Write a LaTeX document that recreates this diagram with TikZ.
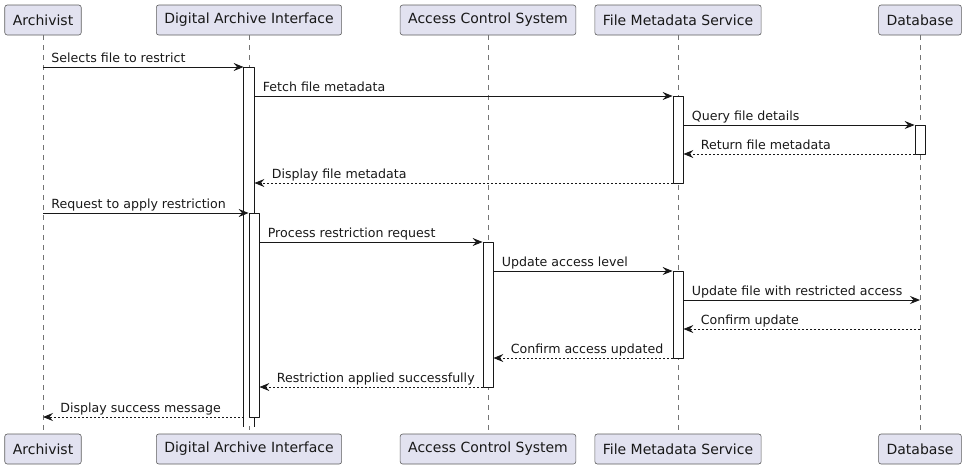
\documentclass[tikz,border=0pt]{standalone}
\usepackage{fontspec}
\setmainfont{DejaVu Sans}
\usepackage{tikz}
\usetikzlibrary{arrows.meta}

\definecolor{partfill}{HTML}{E2E2F0}
\definecolor{ink}{HTML}{181818}

\begin{document}
\begin{tikzpicture}[x=1pt, y=-1pt, line join=round,
  party/.style={draw=ink!70, fill=partfill, rounded corners=2.5pt, line width=0.6pt,
    minimum height=30pt, inner xsep=8pt, inner ysep=0pt,
    font=\fontsize{14}{16}\selectfont, text=ink},
  life/.style={draw=ink!60, line width=0.6pt, dash pattern=on 5pt off 5pt},
  bar/.style={draw=ink, fill=white, line width=0.8pt, minimum width=10pt,
    inner sep=0pt, anchor=north},
  msg/.style={draw=ink, line width=0.9pt, -{Stealth[length=10pt, width=8pt, inset=3.5pt]}},
  reply/.style={msg, dash pattern=on 2pt off 2pt},
  lblf/.style={pos=0, anchor=base west, inner sep=0pt, xshift=8pt, yshift=4.5pt,
    font=\fontsize{12.6}{15}\selectfont, text=ink},
  lblb/.style={lblf, pos=1, xshift=9pt}]
\useasboundingbox (0,0) rectangle (966,469);

% participants, top and bottom
\node[party] (arch) at (43,20) {Archivist};
\node[party] (dai) at (249,20) {Digital Archive Interface};
\node[party] (acs) at (488,20) {Access Control System};
\node[party] (fms) at (678,20) {File Metadata Service};
\node[party] (db) at (920,20) {Database};
\node[party] (arch2) at (43,449) {Archivist};
\node[party] (dai2b) at (249,449) {Digital Archive Interface};
\node[party] (acs2) at (488,449) {Access Control System};
\node[party] (fms2b) at (678,449) {File Metadata Service};
\node[party] (db2) at (920,449) {Database};

% lifelines
\draw[life] (arch.south) -- (arch2.north);
\draw[life] (dai.south) -- (dai2b.north);
\draw[life] (acs.south) -- (acs2.north);
\draw[life] (fms.south) -- (fms2b.north);
\draw[life] (db.south) -- (db2.north);

% message rows
\foreach \y [count=\i] in {67,96,125,154,183,213,242,271,300,329,358,387,417}
  \coordinate (r\i) at (0,\y);

% activations
\node[bar, draw=none, minimum height=359pt] (dai1) at (dai |- r1) {};
\draw[draw=ink, line width=0.8pt] (dai1.south west) -- (dai1.north west)
  -- (dai1.north east) -- (dai1.south east);
\node[bar, minimum height=204pt, xshift=5pt] (dai2) at (dai |- r6) {};
\node[bar, minimum height=87pt] (fms1) at (fms |- r2) {};
\node[bar, minimum height=29pt] (db1) at (db |- r3) {};
\node[bar, minimum height=145pt] (acs1) at (acs |- r7) {};
\node[bar, minimum height=87pt] (fms2) at (fms |- r8) {};

% messages
\draw[msg] (arch |- r1) -- (dai1.west |- r1) node[lblf] {Selects file to restrict};
\draw[msg] (dai1.east |- r2) -- (fms1.west |- r2) node[lblf] {Fetch file metadata};
\draw[msg] (fms1.east |- r3) -- (db1.west |- r3) node[lblf] {Query file details};
\draw[reply] (db1.west |- r4) -- (fms1.east |- r4) node[lblb] {Return file metadata};
\draw[reply] (fms1.west |- r5) -- (dai1.east |- r5) node[lblb] {Display file metadata};
\draw[msg] (arch |- r6) -- (dai2.west |- r6) node[lblf] {Request to apply restriction};
\draw[msg] (dai2.east |- r7) -- (acs1.west |- r7) node[lblf] {Process restriction request};
\draw[msg] (acs1.east |- r8) -- (fms2.west |- r8) node[lblf] {Update access level};
\draw[msg] (fms2.east |- r9) -- (db |- r9) node[lblf] {Update file with restricted access};
\draw[reply] (db |- r10) -- (fms2.east |- r10) node[lblb] {Confirm update};
\draw[reply] (fms2.west |- r11) -- (acs1.east |- r11) node[lblb] {Confirm access updated};
\draw[reply] (acs1.west |- r12) -- (dai2.east |- r12) node[lblb] {Restriction applied successfully};
\draw[reply] (dai1.west |- r13) -- (arch |- r13) node[lblb] {Display success message};
\end{tikzpicture}
\end{document}
